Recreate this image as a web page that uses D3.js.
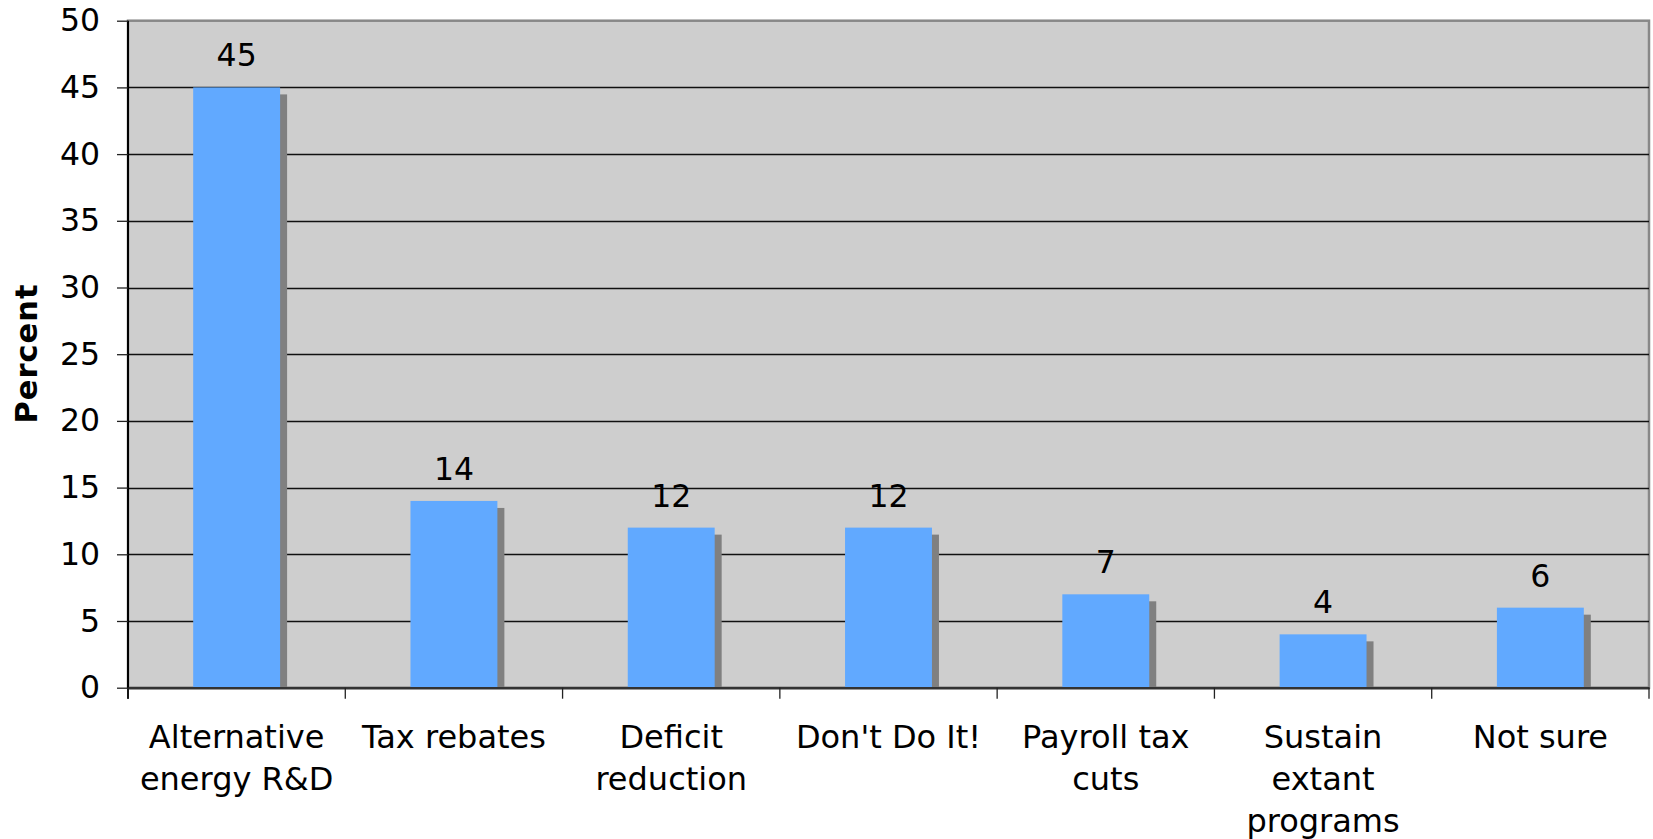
<!DOCTYPE html>
<html>
<head>
<meta charset="utf-8">
<script src="https://cdn.jsdelivr.net/npm/d3@7"></script>
<style>
  body { margin: 0; background: #fff; }
  text { font-family: "DejaVu Sans", Verdana, sans-serif; fill: #000; }
</style>
</head>
<body>
<div id="chart"></div>
<script>
// data
var categories = [
    ["Alternative", "energy R&D"],
    ["Tax rebates"],
    ["Deficit", "reduction"],
    ["Don't Do It!"],
    ["Payroll tax", "cuts"],
    ["Sustain", "extant", "programs"],
    ["Not sure"]
];
var values = [45, 14, 12, 12, 7, 4, 6];
var yTicks = [0, 5, 10, 15, 20, 25, 30, 35, 40, 45, 50];

var W = 1653, H = 839;
var plot = { left: 128, right: 1649, top: 20.7, bottom: 687.7 };

var svg = d3.select("#chart").append("svg")
    .attr("width", W)
    .attr("height", H);

var x = d3.scaleBand()
    .domain(d3.range(values.length))
    .range([plot.left, plot.right])
    .padding(0);

var y = d3.scaleLinear()
    .domain([0, 50])
    .range([plot.bottom, plot.top]);

var barW = x.bandwidth() * 0.4,
    shadow = 7;

// plot background
svg.append("rect")
    .attr("x", plot.left)
    .attr("y", plot.top)
    .attr("width", plot.right - plot.left)
    .attr("height", plot.bottom - plot.top)
    .attr("fill", "#cecece")
    .attr("stroke", "#888")
    .attr("stroke-width", 2.5);

// gridlines
svg.append("g")
    .selectAll("line")
    .data(yTicks.filter(function(d) { return d > 0 && d < 50; }))
    .enter()
    .append("line")
    .attr("x1", plot.left)
    .attr("x2", plot.right)
    .attr("y1", function(d) { return Math.round(y(d)) + 0.5; })
    .attr("y2", function(d) { return Math.round(y(d)) + 0.5; })
    .attr("stroke", "#111")
    .attr("stroke-width", 1.3);

// bar shadows then bars
var bars = svg.append("g");
bars.selectAll(".shadow")
    .data(values)
    .enter()
    .append("rect")
    .attr("x", function(d, i) { return x(i) + x.bandwidth() / 2 - barW / 2 + shadow; })
    .attr("y", function(d) { return y(d) + shadow; })
    .attr("width", barW)
    .attr("height", function(d) { return y(0) - y(d) - shadow; })
    .attr("fill", "#808080");

bars.selectAll(".bar")
    .data(values)
    .enter()
    .append("rect")
    .attr("x", function(d, i) { return x(i) + x.bandwidth() / 2 - barW / 2; })
    .attr("y", function(d) { return y(d); })
    .attr("width", barW)
    .attr("height", function(d) { return y(0) - y(d); })
    .attr("fill", "#61a9ff");

// value labels
svg.append("g")
    .selectAll("text")
    .data(values)
    .enter()
    .append("text")
    .attr("x", function(d, i) { return x(i) + x.bandwidth() / 2; })
    .attr("y", function(d) { return y(d) - 21; })
    .attr("text-anchor", "middle")
    .style("font-size", "31.5px")
    .text(function(d) { return d; });

// y axis
var yAxis = d3.axisLeft(y)
    .tickValues(yTicks)
    .tickSize(11)
    .tickPadding(17)
    .tickSizeOuter(0);

var gY = svg.append("g")
    .attr("transform", "translate(" + plot.left + ",0)")
    .call(yAxis);
gY.select(".domain").attr("stroke", "#000").attr("stroke-width", 2)
    .attr("d", "M0," + plot.top + "V" + (plot.bottom + 11));
gY.selectAll(".tick line").attr("stroke", "#222").attr("stroke-width", 1.3);
gY.selectAll(".tick text")
    .style("font-size", "31.5px")
    .style("font-family", "'DejaVu Sans', Verdana, sans-serif")
    .attr("fill", "#000");

// x axis
var xAxis = d3.axisBottom(x)
    .tickValues([])
    .tickSizeOuter(0);
var gX = svg.append("g")
    .attr("transform", "translate(0," + plot.bottom + ")")
    .call(xAxis);
gX.select(".domain").attr("stroke", "#333").attr("stroke-width", 2.5);

var boundaries = d3.range(values.length + 1).map(function(i) {
    return plot.left + i * x.step();
});
gX.selectAll(".sep")
    .data(boundaries)
    .enter()
    .append("line")
    .attr("x1", function(d) { return d; })
    .attr("x2", function(d) { return d; })
    .attr("y1", 0)
    .attr("y2", 11)
    .attr("stroke", "#222")
    .attr("stroke-width", 1.3);

// category labels
var cat = svg.append("g")
    .selectAll("text")
    .data(categories)
    .enter()
    .append("text")
    .attr("text-anchor", "middle")
    .style("font-size", "32px")
    .attr("x", function(d, i) { return x(i) + x.bandwidth() / 2; })
    .attr("y", 748);
cat.selectAll("tspan")
    .data(function(d) { return d; })
    .enter()
    .append("tspan")
    .attr("x", function() { return d3.select(this.parentNode).attr("x"); })
    .attr("dy", function(d, i) { return i === 0 ? 0 : 42; })
    .text(function(d) { return d; });

// axis title
svg.append("text")
    .attr("transform", "translate(37,354) rotate(-90)")
    .attr("text-anchor", "middle")
    .style("font-size", "30.5px")
    .style("font-weight", "bold")
    .attr("textLength", 139)
    .attr("lengthAdjust", "spacing")
    .text("Percent");
</script>
</body>
</html>
